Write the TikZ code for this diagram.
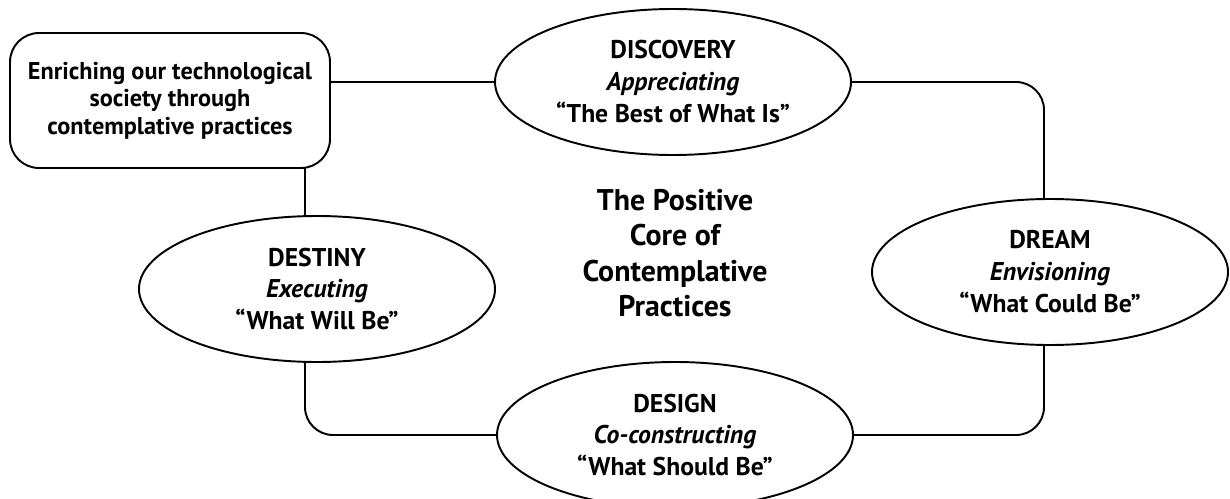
\documentclass[tikz,border=0pt]{standalone}
\usepackage{fontspec}
\setmainfont{PT Sans}
\usetikzlibrary{shapes.geometric}
\tikzstyle{phase}=[ellipse, draw, line width=1.1pt, fill=white, inner sep=0pt,
minimum width=7.12cm, minimum height=2.92cm, align=center,
font=\fontsize{14.6}{18.2}\selectfont\bfseries]
\tikzstyle{goal}=[rectangle, draw, line width=1.1pt, fill=white, rounded corners=0.58cm,
minimum width=6.4cm, minimum height=2.7cm, align=center,
font=\fontsize{13.8}{15.6}\selectfont\bfseries]
\tikzstyle{core}=[align=center, font=\fontsize{17}{20.2}\selectfont\bfseries]
\tikzstyle{cycle}=[line width=1.1pt, rounded corners=0.56cm]

\begin{document}
\begin{tikzpicture}
\useasboundingbox (0,0) rectangle (24.6,-9.96);

\node[phase](discovery)at (13.46,-1.64){DISCOVERY\\\textit{Appreciating}\\“The Best of What Is”};
\node[phase](dream)at (21.0,-5.44){DREAM\\\textit{Envisioning}\\“What Could Be”};
\node[phase](design)at (13.5,-8.7){DESIGN\\\textit{Co-constructing}\\“What Should Be”};
\node[phase](destiny)at (6.34,-5.78){DESTINY\\\textit{Executing}\\“What Will Be”};

\node[core](core)at (13.5,-5.06){The Positive\\Core of\\Contemplative\\Practices};

\draw [cycle](discovery.west) -| ([xshift=-0.24cm]destiny.north);
\draw [cycle]([xshift=-0.24cm]destiny.south) |- (design.west);
\draw [cycle](design.east) -| ([xshift=-0.12cm]dream.south);
\draw [cycle]([xshift=-0.12cm]dream.north) |- (discovery.east);

\node[goal](goal)at (3.4,-2.01){Enriching our technological\\society through\\contemplative practices};
\end{tikzpicture}
\end{document}
